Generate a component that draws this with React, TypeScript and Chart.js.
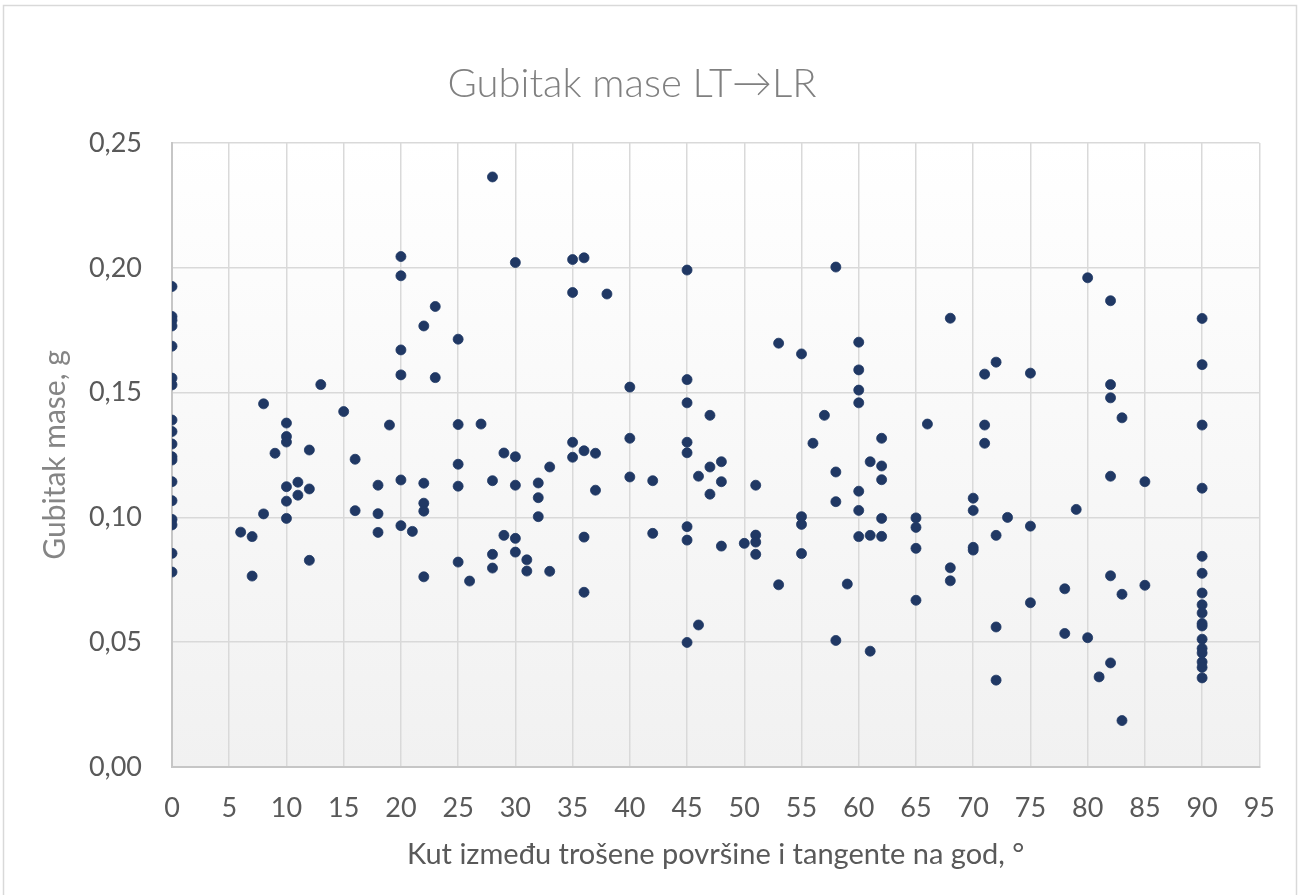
import React, { useEffect, useRef } from "react";
import { Chart, registerables } from "chart.js";

Chart.register(...registerables);

const FONT = "Lato, 'Open Sans', 'DejaVu Sans', sans-serif";

const chartTitle = "Gubitak mase LT→LR";
const xAxisTitle = "Kut između trošene površine i tangente na god, °";
const yAxisTitle = "Gubitak mase, g";

// Angles (°) at which specimens were measured
const angles: number[] = [
  0, 6, 7, 8, 9, 10, 11, 12, 13, 15, 16, 18, 19, 20, 21, 22, 23, 25, 26, 27, 28, 29, 30, 31, 32, 33, 35, 36, 37,
  38, 40, 42, 45, 46, 47, 48, 50, 51, 53, 55, 56, 57, 58, 59, 60, 61, 62, 65, 66, 68, 70, 71, 72, 73, 75, 78, 79,
  80, 81, 82, 83, 85, 90,
];

// Mass loss (g) measured at each angle, in the same order as `angles`
const lossAt0 = [0.1925, 0.1805, 0.179, 0.1767, 0.1686, 0.1558, 0.1531, 0.139, 0.1344, 0.1294, 0.1243, 0.123, 0.1143, 0.1067, 0.0992, 0.097, 0.0856, 0.0781];
const lossAt6to19 = [
  [0.0941],
  [0.0923, 0.0765],
  [0.1455, 0.1014],
  [0.1257],
  [0.1378, 0.1324, 0.1302, 0.1123, 0.1065, 0.0996],
  [0.1141, 0.1089],
  [0.127, 0.1114, 0.0828],
  [0.1532],
  [0.1424],
  [0.1233, 0.1027],
  [0.1129, 0.1015, 0.094],
  [0.137],
];
const lossAt20to38 = [
  [0.2045, 0.1968, 0.1671, 0.1571, 0.115, 0.0967],
  [0.0944],
  [0.1767, 0.1137, 0.1057, 0.1025, 0.0762],
  [0.1845, 0.156],
  [0.1714, 0.1372, 0.1213, 0.1125, 0.0821],
  [0.0745],
  [0.1374],
  [0.2364, 0.1147, 0.0852, 0.0797],
  [0.1258, 0.0928],
  [0.2021, 0.1243, 0.1129, 0.0916, 0.0861],
  [0.083, 0.0785],
  [0.1138, 0.1079, 0.1003],
  [0.1202, 0.0784],
  [0.2033, 0.1901, 0.1301, 0.1241],
  [0.204, 0.1267, 0.0921, 0.07],
  [0.1257, 0.1109],
  [0.1895],
];
const lossAt40to62 = [
  [0.1522, 0.1317, 0.1162],
  [0.1147, 0.0936],
  [0.1991, 0.1552, 0.1459, 0.1301, 0.1259, 0.0963, 0.0909, 0.0499],
  [0.1165, 0.0569],
  [0.1409, 0.1202, 0.1093],
  [0.1223, 0.1143, 0.0885],
  [0.0896],
  [0.1129, 0.0929, 0.0901, 0.0852],
  [0.1698, 0.073],
  [0.1655, 0.1003, 0.0972, 0.0855],
  [0.1297],
  [0.1409],
  [0.2003, 0.1182, 0.1063, 0.0507],
  [0.0733],
  [0.1702, 0.1591, 0.151, 0.1459, 0.1105, 0.1028, 0.0923],
  [0.1223, 0.0928, 0.0464],
  [0.1317, 0.1206, 0.1151, 0.0996, 0.0924],
];
const lossAt65to85 = [
  [0.0998, 0.096, 0.0876, 0.0668],
  [0.1374],
  [0.1798, 0.0798, 0.0746],
  [0.1077, 0.1028, 0.088, 0.0869],
  [0.1574, 0.137, 0.1297],
  [0.1622, 0.0928, 0.0561, 0.0348],
  [0.1],
  [0.1578, 0.0965, 0.0658],
  [0.0714, 0.0535],
  [0.1032],
  [0.196, 0.0518],
  [0.0361],
  [0.1868, 0.1532, 0.1479, 0.1165, 0.0766, 0.0417],
  [0.1399, 0.0692, 0.0186],
  [0.1143, 0.0728],
];
const lossAt90 = [0.1797, 0.1612, 0.137, 0.1117, 0.0844, 0.0776, 0.0697, 0.065, 0.0617, 0.0575, 0.0565, 0.0512, 0.0475, 0.0457, 0.0421, 0.0399, 0.0357];

const xTickStep = 5;
const xMin = 0;
const xMax = 95;
const yTickStep = 0.05;
const yMin = 0;
const yMax = 0.25;

const lossByAngle: number[][] = [lossAt0, ...lossAt6to19, ...lossAt20to38, ...lossAt40to62, ...lossAt65to85, lossAt90];

const points = angles.flatMap((a, i) => (lossByAngle[i] || []).map((v) => ({ x: a, y: v })));

const backgroundPlugin = {
  id: "bgPlugin",
  beforeDraw(chart: any) {
    const { ctx, chartArea, width, height } = chart;
    ctx.save();
    ctx.fillStyle = "#ffffff";
    ctx.fillRect(0, 0, width, height);
    const g = ctx.createLinearGradient(0, chartArea.top, 0, chartArea.bottom);
    g.addColorStop(0, "#ffffff");
    g.addColorStop(1, "#f1f1f1");
    ctx.fillStyle = g;
    ctx.fillRect(chartArea.left, chartArea.top, chartArea.right - chartArea.left, chartArea.bottom - chartArea.top);
    ctx.strokeStyle = "#d9d9d9";
    ctx.lineWidth = 1.5;
    ctx.strokeRect(3.5, 5.5, width - 7, height - 4);
    ctx.restore();
  },
};

export default function App() {
  const ref = useRef<HTMLCanvasElement>(null);

  useEffect(() => {
    const canvas = ref.current;
    if (!canvas) return;
    const chart = new Chart(canvas, {
      type: "scatter",
      data: {
        datasets: [
          {
            data: points,
            backgroundColor: "#203864",
            borderColor: "#203864",
            borderWidth: 0.8,
            pointRadius: 5,
            pointHoverRadius: 5,
          },
        ],
      },
      options: {
        responsive: false,
        maintainAspectRatio: false,
        animation: false,
        layout: { padding: { left: 0, right: 36, top: 0, bottom: 0 } },
        plugins: {
          legend: { display: false },
          tooltip: { enabled: false },
          title: {
            display: true,
            text: chartTitle,
            color: "#808080",
            font: { family: FONT, size: 40, weight: 300 },
            padding: { top: 60, bottom: 35 },
          },
        },
        scales: {
          x: {
            type: "linear",
            min: xMin,
            max: xMax,
            ticks: {
              stepSize: xTickStep,
              color: "#595959",
              font: { family: FONT, size: 27 },
              padding: 25,
              maxRotation: 0,
              autoSkip: false,
            },
            grid: { color: "#d9d9d9", lineWidth: 1.5, drawTicks: false },
            border: { color: "#c6c6c6", width: 2 },
            title: {
              display: true,
              text: xAxisTitle,
              color: "#595959",
              font: { family: FONT, size: 29 },
              padding: { top: 0, bottom: 23 },
            },
            afterFit: (s: any) => {
              s.height = 128;
            },
          },
          y: {
            type: "linear",
            min: yMin,
            max: yMax,
            ticks: {
              stepSize: yTickStep,
              color: "#595959",
              font: { family: FONT, size: 27 },
              padding: 30,
              callback: (v: any) => Number(v).toFixed(2).replace(".", ","),
            },
            grid: { color: "#d9d9d9", lineWidth: 1.5, drawTicks: false },
            border: { color: "#c6c6c6", width: 2 },
            title: {
              display: true,
              text: yAxisTitle,
              color: "#858585",
              font: { family: FONT, size: 30 },
              padding: { top: 37, bottom: 0 },
            },
            afterFit: (s: any) => {
              s.width = 172;
            },
          },
        },
      } as any,
      plugins: [backgroundPlugin],
    });
    return () => chart.destroy();
  }, []);

  return (
    <div style={{ position: "absolute", left: 0, top: 0, width: 1300, height: 895, background: "#ffffff" }}>
      <canvas ref={ref} width={1300} height={895} style={{ display: "block", width: 1300, height: 895 }} />
    </div>
  );
}
